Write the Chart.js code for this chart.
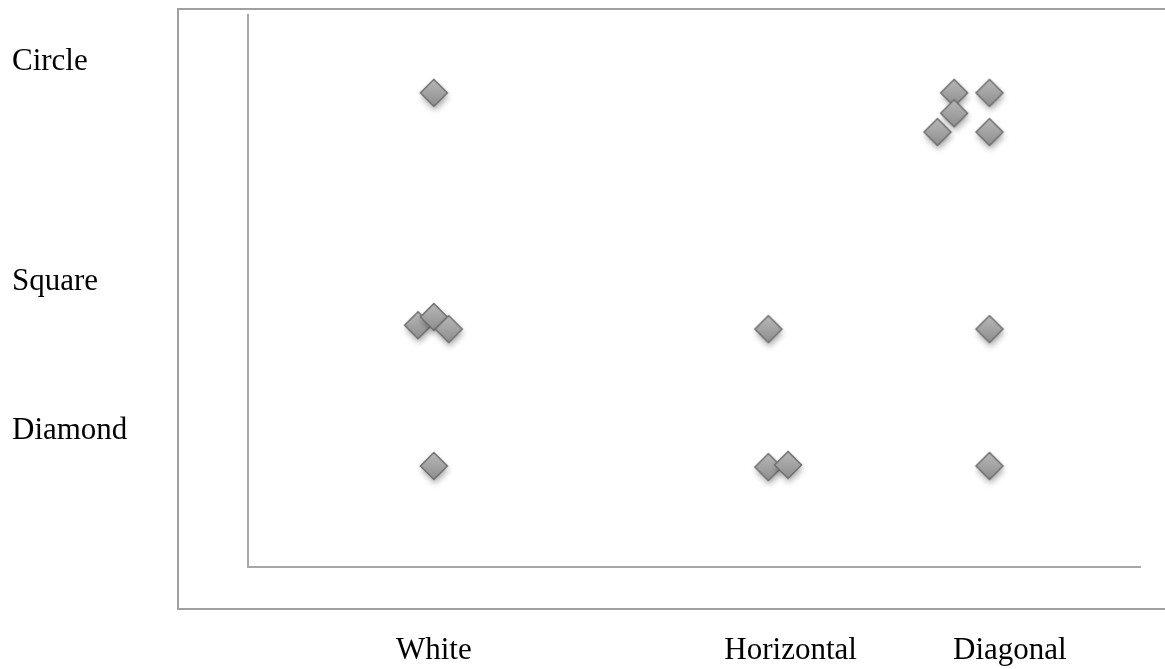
<!DOCTYPE html>
<html>
<head>
<meta charset="utf-8">
<script src="https://cdn.jsdelivr.net/npm/chart.js@4.4.1/dist/chart.umd.min.js"></script>
<style>
    body { margin: 0; background: #fff; }
</style>
</head>
<body>
<canvas id="shapeChart" width="1165" height="669"></canvas>
<script>
// categories and row labels
const categories = ['White', 'Horizontal', 'Diagonal'];
const shapes = ['Diamond', 'Square', 'Circle'];
// where the labels sit, in data units
const xTickAt = [1.0, 2.92, 4.1];
const yTickAt = [24.7, 51.7, 91.6];

// points, in draw order
const pointX = [1.0, 0.915, 1.0, 1.08, 1.0, 2.80, 2.80, 2.906, 3.80, 3.99, 3.80, 3.71, 3.99, 3.99, 3.99];
const pointY = [85.9, 43.8, 45.3, 43.1, 18.3, 43.1, 18.1, 18.5, 85.9, 85.9, 82.2, 78.8, 78.8, 43.1, 18.3];

const labelFont = { family: "'Liberation Serif', 'Times New Roman', serif", size: 31 };

// gray gradient diamond with soft shadow, used as point style
function makeDiamond() {
    const c = document.createElement('canvas');
    c.width = 48; c.height = 48;
    const g = c.getContext('2d');
    const cx = 24, cy = 24, r = 13.5;
    g.save();
    g.shadowColor = 'rgba(0,0,0,0.35)';
    g.shadowBlur = 6;
    g.shadowOffsetX = 1;
    g.shadowOffsetY = 4;
    const grad = g.createLinearGradient(0, cy - r, 0, cy + r);
    grad.addColorStop(0, '#b8b8b8');
    grad.addColorStop(1, '#8e8e8e');
    g.beginPath();
    g.moveTo(cx, cy - r);
    g.lineTo(cx + r, cy);
    g.lineTo(cx, cy + r);
    g.lineTo(cx - r, cy);
    g.closePath();
    g.fillStyle = grad;
    g.fill();
    g.restore();
    g.lineWidth = 1.5;
    g.strokeStyle = '#6e6e6e';
    g.stroke();
    return c;
}

const outerFrame = {
    id: 'outerFrame',
    beforeDraw(chart) {
        const a = chart.chartArea;
        const ctx = chart.ctx;
        ctx.save();
        ctx.strokeStyle = '#a0a0a0';
        ctx.lineWidth = 2;
        ctx.strokeRect(a.left - 70, a.top - 6, chart.width + 20, a.bottom - a.top + 48);
        ctx.restore();
    }
};

const points = pointX.map((x, i) => ({ x: x, y: pointY[i] }));

new Chart(document.getElementById('shapeChart'), {
    type: 'scatter',
    data: {
        datasets: [{
            data: points,
            pointStyle: makeDiamond(),
            pointRadius: 14,
            pointHoverRadius: 14
        }]
    },
    options: {
        responsive: false,
        animation: false,
        layout: { padding: { left: 12, top: 15, right: 25, bottom: 0 } },
        plugins: { legend: { display: false }, tooltip: { enabled: false } },
        scales: {
            x: {
                type: 'linear',
                min: 0,
                max: 4.8,
                grid: { display: false, drawTicks: false },
                border: { display: true, color: '#a6a6a6', width: 2 },
                afterBuildTicks: (scale) => { scale.ticks = xTickAt.map(v => ({ value: v })); },
                afterFit: (scale) => { scale.height = 102; },
                ticks: {
                    autoSkip: false,
                    maxRotation: 0,
                    padding: 65,
                    color: '#000',
                    font: labelFont,
                    callback: (v, i) => categories[i]
                }
            },
            y: {
                type: 'linear',
                min: 0,
                max: 100,
                grid: { display: false, drawTicks: false },
                border: { display: true, color: '#a6a6a6', width: 2 },
                afterBuildTicks: (scale) => { scale.ticks = yTickAt.map(v => ({ value: v })); },
                afterFit: (scale) => {
                    scale.width = 236;
                    scale.paddingTop = 0;
                    scale.paddingBottom = 0;
                },
                ticks: {
                    autoSkip: false,
                    crossAlign: 'far',
                    color: '#000',
                    font: labelFont,
                    callback: (v, i) => shapes[i]
                }
            }
        }
    },
    plugins: [outerFrame]
});
</script>
</body>
</html>
